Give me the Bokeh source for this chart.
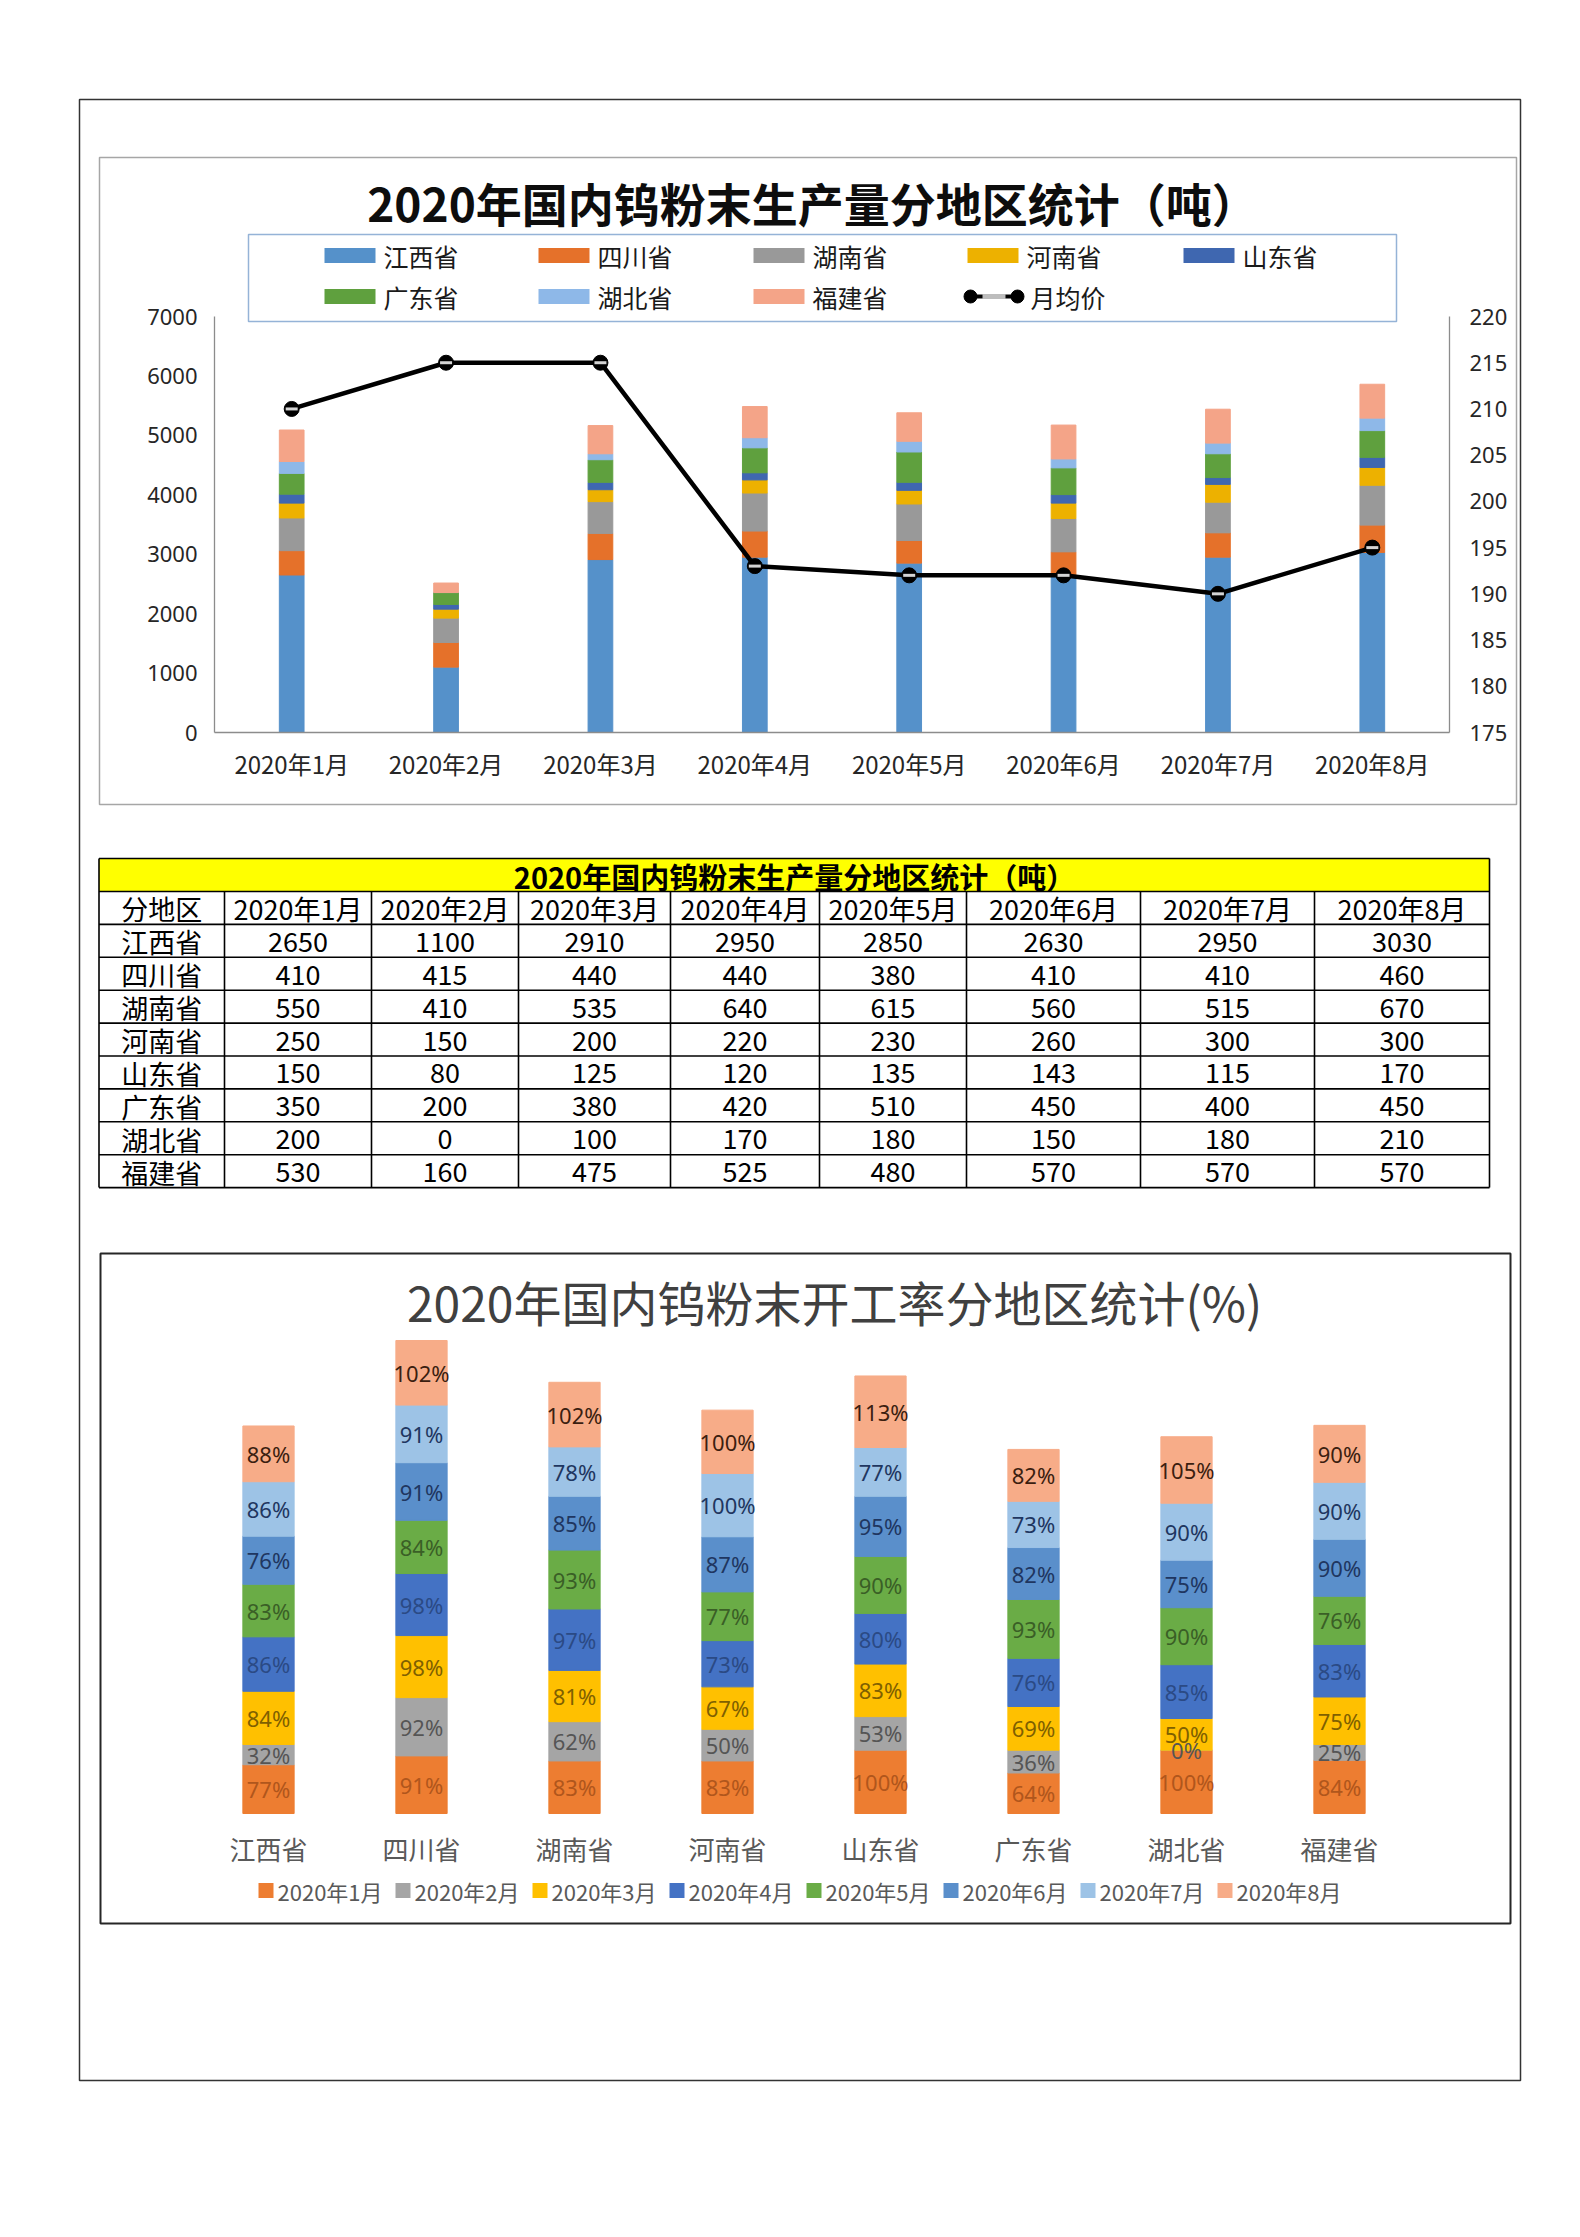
from bokeh.plotting import figure
from bokeh.models import Range1d, ColumnDataSource
from bokeh.core.properties import value
from bokeh.embed import file_html
from bokeh.resources import INLINE

# ---------------- data ----------------
months = ["2020年1月", "2020年2月", "2020年3月", "2020年4月",
          "2020年5月", "2020年6月", "2020年7月", "2020年8月"]
provinces = ["江西省", "四川省", "湖南省", "河南省", "山东省", "广东省", "湖北省", "福建省"]

# production (tonnes) by province, Jan..Aug
prod_jiangxi = [2650, 1100, 2910, 2950, 2850, 2630, 2950, 3030]
prod_sichuan = [410, 415, 440, 440, 380, 410, 410, 460]
prod_hunan = [550, 410, 535, 640, 615, 560, 515, 670]
prod_henan = [250, 150, 200, 220, 230, 260, 300, 300]
prod_shandong = [150, 80, 125, 120, 135, 143, 115, 170]
prod_guangdong = [350, 200, 380, 420, 510, 450, 400, 450]
prod_hubei = [200, 0, 100, 170, 180, 150, 180, 210]
prod_fujian = [530, 160, 475, 525, 480, 570, 570, 570]
production = [prod_jiangxi, prod_sichuan, prod_hunan, prod_henan,
              prod_shandong, prod_guangdong, prod_hubei, prod_fujian]

price_name = "月均价"
price = [210, 215, 215, 193, 192, 192, 190, 195]

left_ticks = [0, 1000, 2000, 3000, 4000, 5000, 6000, 7000]
right_ticks = [175, 180, 185, 190, 195, 200, 205, 210, 215, 220]

# operating rate (%) by province, Jan..Aug
rate_jiangxi = [77, 32, 84, 86, 83, 76, 86, 88]
rate_sichuan = [91, 92, 98, 98, 84, 91, 91, 102]
rate_hunan = [83, 62, 81, 97, 93, 85, 78, 102]
rate_henan = [83, 50, 67, 73, 77, 87, 100, 100]
rate_shandong = [100, 53, 83, 80, 90, 95, 77, 113]
rate_guangdong = [64, 36, 69, 76, 93, 82, 73, 82]
rate_hubei = [100, 0, 50, 85, 90, 75, 90, 105]
rate_fujian = [84, 25, 75, 83, 76, 90, 90, 90]
rates = [rate_jiangxi, rate_sichuan, rate_hunan, rate_henan,
         rate_shandong, rate_guangdong, rate_hubei, rate_fujian]

title1 = "2020年国内钨粉末生产量分地区统计（吨）"
table_title = "2020年国内钨粉末生产量分地区统计（吨）"
table_corner = "分地区"
title2 = "2020年国内钨粉末开工率分地区统计(%)"

# ---------------- styles ----------------
FONT = value("Noto Sans CJK SC")
LATIN = value("Noto Sans")
colors1 = ["#5591CA", "#E5712A", "#999999", "#EDB100",
           "#3F67B0", "#5FA03E", "#8EB8E8", "#F4A488"]
colors2 = ["#ED7D31", "#A5A5A5", "#FFC000", "#4472C4",
           "#6AAC46", "#5A8FCB", "#9DC3E6", "#F7AC88"]
label_colors2 = ["#B0561C", "#555555", "#7F6000", "#2B4A85",
                 "#3A5F26", "#1F3660", "#1F3660", "#3B1E10"]

W, H = 1564, 2110
PX0, PX1 = 0, W
PY_TOP, PY_BOT = 0, H


def xr(v0, p0, v1, p1):
    s = (v1 - v0) / (p1 - p0)
    return Range1d(start=v0 + (PX0 - p0) * s, end=v0 + (PX1 - p0) * s)


def yr(v0, p0, v1, p1):
    s = (v1 - v0) / (p1 - p0)
    return Range1d(start=v0 + (PY_BOT - p0) * s, end=v0 + (PY_TOP - p0) * s)


p = figure(width=W, height=H, output_backend="svg", toolbar_location=None,
           x_range=Range1d(PX0, PX1), y_range=Range1d(PY_BOT, PY_TOP),
           x_axis_type=None, y_axis_type=None, min_border=0,
           outline_line_color=None, background_fill_color="white",
           border_fill_color="white")

# scales for the two charts (plot areas)
p.extra_x_ranges = {"c1x": xr(0, 214, len(months), 1449),
                    "c2x": xr(0, 191.5, len(provinces), 1415.5)}
p.extra_y_ranges = {"c1y": yr(0, 732, 7000, 316),
                    "c1y2": yr(175, 732, 220, 316),
                    "c2y": yr(0, 1813, 747, 1340)}

# ---------------- page & boxes ----------------
p.quad(left=[79], right=[1520], top=[99], bottom=[2080], fill_color=None,
       line_color="#333333", line_width=1.5)
p.quad(left=[99], right=[1516], top=[157], bottom=[804], fill_color=None,
       line_color="#A6A6A6", line_width=1.5)
p.quad(left=[100], right=[1510], top=[1253], bottom=[1923], fill_color=None,
       line_color="#262626", line_width=2)

# ---------------- chart 1 ----------------
p.text(x=[812], y=[201], text=[title1], text_font=FONT, text_font_size="46px",
       text_font_style="bold", text_align="center", text_baseline="middle",
       text_color="#0D0D0D")

x1 = [i + 0.5 for i in range(len(months))]
src1 = {"x": x1}
keys1 = []
for k, vals in enumerate(production):
    src1["p%d" % k] = vals
    keys1.append("p%d" % k)
p.vbar_stack(keys1, x="x", width=0.16, color=colors1, source=ColumnDataSource(src1),
             x_range_name="c1x", y_range_name="c1y")

# axes lines
p.segment(x0=[0, 0, len(months)], y0=[0, 0, 0], x1=[0, len(months), len(months)],
          y1=[left_ticks[-1], 0, left_ticks[-1]], line_color="#8C8C8C", line_width=1.3,
          x_range_name="c1x", y_range_name="c1y")

p.text(x=[0] * len(left_ticks), y=left_ticks, text=[str(t) for t in left_ticks],
       x_offset=-17, text_align="right", text_baseline="middle", text_font=LATIN,
       text_font_size="22px", text_color="#262626", x_range_name="c1x", y_range_name="c1y")
p.text(x=[len(months)] * len(right_ticks), y=right_ticks, text=[str(t) for t in right_ticks],
       x_offset=20, text_align="left", text_baseline="middle", text_font=LATIN,
       text_font_size="22px", text_color="#262626", x_range_name="c1x", y_range_name="c1y2")
p.text(x=x1, y=[0] * len(months), text=months, y_offset=31, text_align="center",
       text_baseline="middle", text_font=FONT, text_font_size="24px", text_color="#262626",
       x_range_name="c1x", y_range_name="c1y")

# price line
p.line(x1, price, line_color="black", line_width=4.5, x_range_name="c1x", y_range_name="c1y2")
p.scatter(x1, price, size=15, fill_color="black", line_color="black",
          x_range_name="c1x", y_range_name="c1y2")
p.scatter(x1, price, marker="dash", size=12, line_color="#D4D4D4", line_width=3,
          x_range_name="c1x", y_range_name="c1y2")

# legend 1
p.quad(left=[248], right=[1396], top=[234], bottom=[321], fill_color=None,
       line_color="#95B3D7", line_width=1.5)
leg_x = [324, 538, 753, 967, 1183, 324, 538, 753]
leg_y = [255, 255, 255, 255, 255, 296, 296, 296]
p.rect(x=[lx + 25.5 for lx in leg_x], y=leg_y, width=51, height=15,
       fill_color=colors1, line_color=None)
p.text(x=[lx + 59 for lx in leg_x], y=leg_y, text=provinces, text_align="left",
       text_baseline="middle", text_font=FONT, text_font_size="25px", text_color="#1A1A1A")
p.line([970, 1017], [296, 296], line_color="black", line_width=4)
p.scatter([970, 1017], [296, 296], size=13, fill_color="black", line_color="black")
p.line([982, 1005], [296, 296], line_color="#BDBDBD", line_width=5)
p.text(x=[1030], y=[296], text=[price_name], text_align="left", text_baseline="middle",
       text_font=FONT, text_font_size="25px", text_color="#1A1A1A")

# ---------------- table ----------------
col_edges = [98.5, 224, 371, 518, 670, 819, 966, 1140, 1314, 1489]
row_top = 891
row_h = 32.9
n_rows = len(provinces) + 1
row_edges = [row_top + row_h * r for r in range(n_rows + 1)]

p.quad(left=[col_edges[0]], right=[col_edges[-1]], top=[858], bottom=[row_top],
       fill_color="#FFFF00", line_color=None)
p.text(x=[794], y=[875], text=[table_title], text_align="center", text_baseline="middle",
       text_font=FONT, text_font_size="29px", text_font_style="bold", text_color="black")

hx0 = [col_edges[0]] * (len(row_edges) + 1)
hx1 = [col_edges[-1]] * (len(row_edges) + 1)
hy = [858] + row_edges
p.segment(x0=hx0, y0=hy, x1=hx1, y1=hy, line_color="black", line_width=1.6)
vx = col_edges
vy0 = [858] + [row_top] * (len(col_edges) - 2) + [858]
vy1 = [row_edges[-1]] * len(col_edges)
p.segment(x0=vx, y0=vy0, x1=vx, y1=vy1, line_color="black", line_width=1.6)

cell_x, cell_y, cell_t = [], [], []
centers = [(col_edges[c] + col_edges[c + 1]) / 2 for c in range(len(col_edges) - 1)]
header = [table_corner] + months
for c, t in enumerate(header):
    cell_x.append(centers[c]); cell_y.append(row_edges[0] + row_h / 2 + 1); cell_t.append(t)
for r, prov in enumerate(provinces):
    yc = row_edges[r + 1] + row_h / 2 + 1
    cell_x.append(centers[0]); cell_y.append(yc); cell_t.append(prov)
    for c, v in enumerate(production[r]):
        cell_x.append(centers[c + 1]); cell_y.append(yc); cell_t.append(str(v))
p.text(x=cell_x, y=cell_y, text=cell_t, text_align="center", text_baseline="middle",
       text_font=FONT, text_font_size="27px", text_color="black")

# ---------------- chart 2 ----------------
p.text(x=[834], y=[1300], text=[title2], text_align="center", text_baseline="middle",
       text_font=FONT, text_font_size="48px", text_color="#404040")

x2 = [i + 0.5 for i in range(len(provinces))]
src2 = {"x": x2}
keys2 = []
for j in range(len(months)):
    src2["m%d" % j] = [rates[i][j] for i in range(len(provinces))]
    keys2.append("m%d" % j)
p.vbar_stack(keys2, x="x", width=0.335, color=colors2, source=ColumnDataSource(src2),
             x_range_name="c2x", y_range_name="c2y")

lab_x, lab_y, lab_t, lab_c = [], [], [], []
for i in range(len(provinces)):
    cum = 0
    for j in range(len(months)):
        v = rates[i][j]
        lab_x.append(x2[i]); lab_y.append(cum + v / 2); lab_t.append("%d%%" % v)
        lab_c.append(label_colors2[j])
        cum += v
p.text(x=lab_x, y=lab_y, text=lab_t, text_color=lab_c, text_align="center",
       text_baseline="middle", text_font=LATIN, text_font_size="22px",
       x_range_name="c2x", y_range_name="c2y")

p.text(x=x2, y=[0] * len(provinces), text=provinces, y_offset=35, text_align="center",
       text_baseline="middle", text_font=FONT, text_font_size="26px", text_color="#595959",
       x_range_name="c2x", y_range_name="c2y")

leg2_x = [258 + 137 * j for j in range(len(months))]
p.rect(x=[lx + 7.5 for lx in leg2_x], y=[1890] * len(months), width=15, height=15,
       fill_color=colors2, line_color=None)
p.text(x=[lx + 19 for lx in leg2_x], y=[1890] * len(months), text=months, text_align="left",
       text_baseline="middle", text_font=FONT, text_font_size="22px", text_color="#595959")

open("out.html", "w").write(file_html(p, INLINE))
